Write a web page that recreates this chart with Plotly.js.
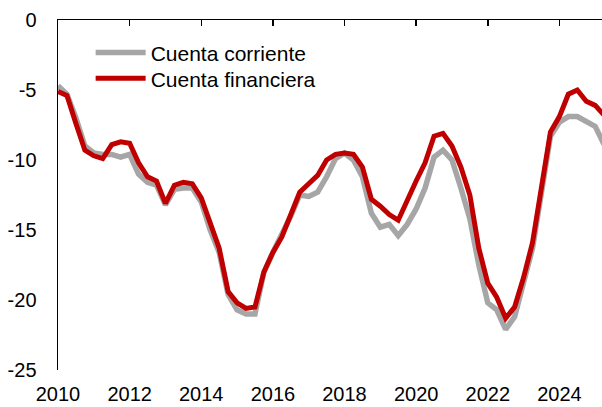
<!DOCTYPE html>
<html>
<head>
<meta charset="utf-8">
<script src="https://cdn.plot.ly/plotly-3.0.1.min.js"></script>
<style>html,body{margin:0;padding:0;background:#fff}#chart{width:602px;height:407px}</style>
</head>
<body>
<div id="chart"></div>
<script>
// Quarterly observations, 2010Q1 .. 2025Q2
const startYear = 2010;
const quarters = Array.from({length: 62}, (_, i) => startYear + i / 4);

const cuentaCorriente = [
  -4.7, -5.3, -7.0, -9.0, -9.5, -9.6, -9.6, -9.8,
  -9.6, -11.0, -11.6, -11.8, -13.2, -12.1, -12.0, -12.0,
  -13.0, -15.0, -16.6, -19.6, -20.7, -21.0, -21.0, -18.0,
  -16.6, -15.4, -14.0, -12.5, -12.6, -12.3, -11.2, -9.9,
  -9.5, -10.0, -11.2, -13.8, -14.8, -14.6, -15.4, -14.6,
  -13.5, -12.0, -9.8, -9.3, -10.0, -12.0, -14.2, -17.5,
  -20.2, -20.7, -22.1, -21.2, -18.8, -16.3, -12.3, -8.3,
  -7.3, -6.9, -6.9, -7.3, -7.6, -8.9
];

const cuentaFinanciera = [
  -5.1, -5.4, -7.4, -9.3, -9.7, -9.9, -8.9, -8.7,
  -8.8, -10.2, -11.2, -11.5, -13.1, -11.8, -11.6, -11.7,
  -12.7, -14.6, -16.3, -19.4, -20.2, -20.6, -20.5, -18.0,
  -16.6, -15.5, -14.0, -12.3, -11.7, -11.1, -10.0, -9.6,
  -9.5, -9.6, -10.5, -12.8, -13.3, -13.9, -14.3, -13.0,
  -11.5, -10.2, -8.3, -8.1, -9.0, -10.5, -12.5, -16.3,
  -18.8, -19.8, -21.3, -20.5, -18.4, -15.9, -12.0, -8.0,
  -6.9, -5.3, -5.0, -5.8, -6.1, -6.8
];

const seriesNames = ["Cuenta corriente", "Cuenta financiera"];
const xTickVals = [2010, 2012, 2014, 2016, 2018, 2020, 2022, 2024];
const yTickVals = [0, -5, -10, -15, -20, -25];

const FONT = "Liberation Sans, Arial, sans-serif";
const xRange = [2010, 2025.19];

const traces = [
  {x: quarters, y: cuentaCorriente, name: seriesNames[0], type: "scatter", mode: "lines",
   line: {color: "#A6A6A6", width: 5.5}, xaxis: "x", yaxis: "y", legend: "legend"},
  {x: quarters, y: cuentaFinanciera, name: seriesNames[1], type: "scatter", mode: "lines",
   line: {color: "#C00000", width: 5}, xaxis: "x2", yaxis: "y", legend: "legend2"}
];

const legendFont = {family: FONT, size: 21, color: "#000"};
const layout = {
  width: 602, height: 407,
  margin: {l: 58, r: 0, t: 20, b: 37},
  paper_bgcolor: "#fff", plot_bgcolor: "#fff",
  font: {family: FONT, size: 20, color: "#000"},
  showlegend: true,
  legend: {x: 0.06, y: 0.965, xanchor: "left", yanchor: "top",
           bgcolor: "rgba(0,0,0,0)", font: legendFont, itemwidth: 50},
  legend2: {x: 0.06, y: 0.891, xanchor: "left", yanchor: "top",
           bgcolor: "rgba(0,0,0,0)", font: legendFont, itemwidth: 50},
  xaxis: {range: xRange, tickvals: xTickVals, ticktext: xTickVals.map(String),
          showline: false, ticks: "", showgrid: false, zeroline: false,
          ticklabelstandoff: 10, tickfont: {family: FONT, size: 20, color: "#000"}},
  xaxis2: {range: xRange, overlaying: "x", side: "top", anchor: "y",
           tickvals: xTickVals, showticklabels: false, showline: true,
           linecolor: "#000", linewidth: 1.5, ticks: "inside", ticklen: 6,
           tickwidth: 1.5, tickcolor: "#000", showgrid: false, zeroline: false},
  yaxis: {range: [-25, 0], tickvals: yTickVals, ticktext: yTickVals.map(String),
          showline: true, linecolor: "#000", linewidth: 1.5, ticks: "",
          showgrid: false, zeroline: false, ticklabelstandoff: 16,
          tickfont: {family: FONT, size: 20, color: "#000"}}
};

Plotly.newPlot("chart", traces, layout, {displayModeBar: false, staticPlot: true});
</script>
</body>
</html>
